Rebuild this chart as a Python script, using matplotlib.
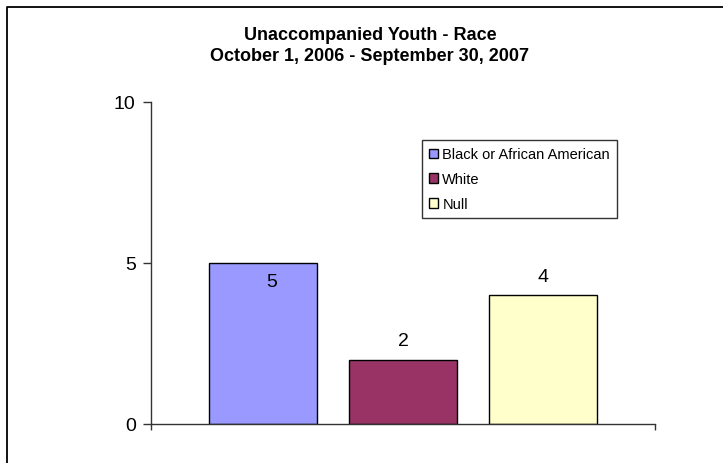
import matplotlib.pyplot as plt
from matplotlib.patches import Patch
from matplotlib.lines import Line2D

# data
races = ['Black or African American', 'White', 'Null']
counts = [5, 2, 4]
colors = ['#9999FF', '#993366', '#FFFFCC']
yticks = [0, 5, 10]

plt.rcParams['font.family'] = ['Liberation Sans', 'DejaVu Sans']

W, H = 723, 464
fig = plt.figure(figsize=(W / 100, H / 100), dpi=100)

# outer chart border (right and bottom run off the picture)
fig.add_artist(Line2D([7 / W, 7 / W, 1.0], [0.0, 1 - 8 / H, 1 - 8 / H],
                      transform=fig.transFigure, color='black', lw=1.3))

ax = fig.add_axes([151 / W, 1 - 425 / H, (655 - 151) / W, (425 - 103) / H])

x = list(range(len(races)))
ax.bar(x, counts, width=0.77, color=colors, edgecolor='black', linewidth=1)

# value labels (the first one sits inside the bar, like in the original)
for i, v in enumerate(counts):
    if i == 0:
        off = (9, -19)
    else:
        off = (0, 19)
    ax.annotate(str(v), (x[i], v), xytext=off, textcoords='offset pixels',
                ha='center', va='center', fontsize=14)

ax.set_xlim(-0.8, 2.8)
ax.set_ylim(0, 10)
ax.set_yticks(yticks)
ax.set_xticks([-0.8, 2.8])
ax.set_xticklabels([])
ax.tick_params(axis='y', length=6, width=1, labelsize=14, pad=5, color='#333333')
ax.tick_params(axis='x', length=4.5, width=1, color='#333333')
for s in ['top', 'right']:
    ax.spines[s].set_visible(False)
for s in ['left', 'bottom']:
    ax.spines[s].set_color('#333333')
    ax.spines[s].set_linewidth(1)

fig.text(370 / W, 1 - 46 / H,
         'Unaccompanied Youth - Race\nOctober 1, 2006 - September 30, 2007',
         ha='center', va='center', fontsize=13, fontweight='bold', linespacing=1.3)

handles = [Patch(facecolor=c, edgecolor='black', linewidth=1) for c in colors]
leg = fig.legend(handles, races, loc='upper left',
                 bbox_to_anchor=(422 / W, 1 - 141 / H), fontsize=10.5,
                 frameon=True, fancybox=False, handlelength=0.6, handleheight=0.6,
                 handletextpad=0.3, borderpad=0.5, labelspacing=0.75, borderaxespad=0)
leg.get_frame().set_edgecolor('black')
leg.get_frame().set_linewidth(1)

fig.savefig('out.png', dpi=100)
